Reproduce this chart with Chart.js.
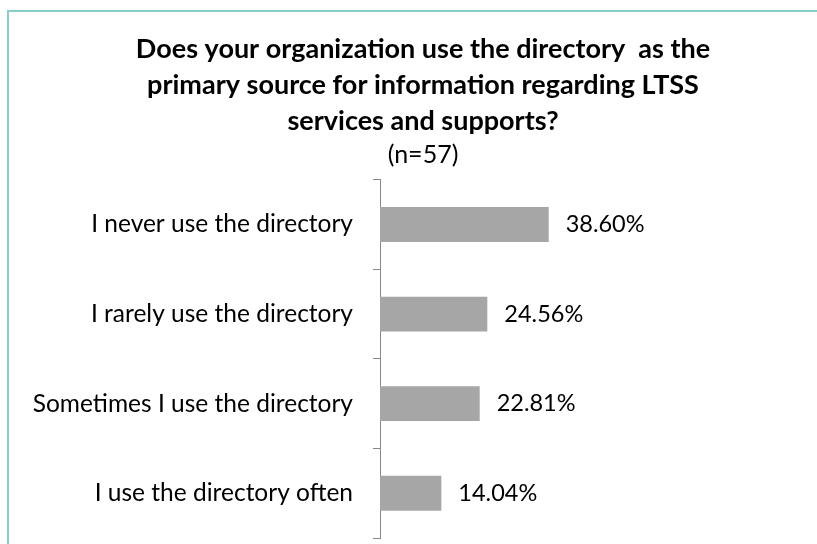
<!DOCTYPE html>
<html>
<head>
<meta charset="utf-8">
<script src="https://cdn.jsdelivr.net/npm/chart.js@4"></script>
<style>
  html, body { margin: 0; padding: 0; background: #fff; }
  #wrap { position: relative; width: 817px; height: 544px; overflow: hidden; }
  #frame {
    position: absolute; left: 7px; top: 10px; width: 830px; height: 560px;
    border: 2px solid #86cec6; box-sizing: border-box;
  }
  #chart { position: absolute; left: 0; top: 0; }
</style>
</head>
<body>
<div id="wrap">
  <div id="frame"></div>
  <canvas id="chart" width="817" height="544"></canvas>
</div>
<script>
// Survey answers and their share of respondents (%)
const categories = [
  'I never use the directory',
  'I rarely use the directory',
  'Sometimes I use the directory',
  'I use the directory often'
];
const shares = [38.60, 24.56, 22.81, 14.04];
const titleLines = [
  'Does your organization use the directory  as the',
  'primary source for information regarding LTSS',
  'services and supports?'
];
const sampleNote = '(n=57)';

const FONT = 'Lato, "Open Sans", sans-serif';

// Writes the percentage to the right of each bar
const valueLabels = {
  id: 'valueLabels',
  afterDatasetsDraw(chart) {
    const ctx = chart.ctx;
    const meta = chart.getDatasetMeta(0);
    ctx.save();
    ctx.font = '23.5px ' + FONT;
    ctx.fillStyle = '#000';
    ctx.textAlign = 'left';
    ctx.textBaseline = 'middle';
    meta.data.forEach((bar, i) => {
      ctx.fillText(shares[i].toFixed(2) + '%', bar.x + 17, bar.y);
    });
    ctx.restore();
  }
};

new Chart(document.getElementById('chart'), {
  type: 'bar',
  data: {
    labels: categories,
    datasets: [{
      data: shares,
      backgroundColor: '#a6a6a6',
      barPercentage: 0.39,
      categoryPercentage: 1
    }]
  },
  options: {
    indexAxis: 'y',
    responsive: false,
    animation: false,
    layout: { padding: { left: 29, right: 0, top: 0, bottom: 6 } },
    scales: {
      x: { display: false, min: 0, max: 100 },
      y: {
        afterFit(scale) {
          scale.width = 351;
          scale.paddingTop = 0;
          scale.paddingBottom = 0;
        },
        grid: {
          drawOnChartArea: false,
          drawTicks: true,
          tickLength: 7,
          color: '#888'
        },
        border: { display: true, color: '#888', width: 1 },
        ticks: {
          padding: 20,
          color: '#000',
          font: { family: FONT, size: 24.5 }
        }
      }
    },
    plugins: {
      legend: { display: false },
      tooltip: { enabled: false },
      title: {
        display: true,
        text: titleLines,
        color: '#000',
        font: { family: FONT, size: 27, weight: 'bold', lineHeight: 36 / 27 },
        padding: { top: 31, bottom: 0 }
      },
      subtitle: {
        display: true,
        text: sampleNote,
        color: '#000',
        font: { family: FONT, size: 25, weight: 'normal', lineHeight: 1.15 },
        padding: { top: 2, bottom: 10 }
      }
    }
  },
  plugins: [valueLabels]
});
</script>
</body>
</html>
